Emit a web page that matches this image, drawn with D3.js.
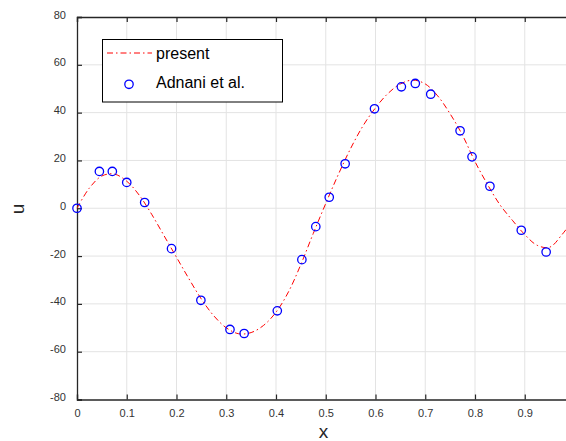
<!DOCTYPE html>
<html>
<head>
<meta charset="utf-8">
<script src="https://cdn.jsdelivr.net/npm/d3@7"></script>
<style>
  html, body { margin: 0; padding: 0; background: #fff; }
  svg { display: block; font-family: "Liberation Sans", Arial, sans-serif; }
</style>
</head>
<body>
<svg id="chart" width="566" height="441"></svg>
<script>
// "present" curve samples (x, u)
const presentX = [0, 0.025, 0.05, 0.075, 0.1, 0.125, 0.15, 0.175, 0.2, 0.225, 0.25, 0.275, 0.3, 0.325, 0.35, 0.375, 0.4, 0.425, 0.45, 0.475, 0.5, 0.525, 0.55, 0.575, 0.6, 0.625, 0.65, 0.675, 0.7, 0.725, 0.75, 0.775, 0.8, 0.825, 0.85, 0.875, 0.9, 0.925, 0.95, 0.975, 1.0];
const presentU = [0, 8.5, 13.5, 14.3, 11.3, 5.5, -2.5, -11.5, -20.5, -29.5, -38, -45, -50, -52.5, -52, -49, -43.5, -35, -23.5, -10.5, 2, 14, 25, 34.5, 42, 48, 52, 53.6, 52, 47, 39.5, 30.5, 19.5, 10, 1.5, -5, -11, -15.5, -16.3, -11, -4];
// Adnani et al. points
const adnaniX = [0, 0.045, 0.071, 0.100, 0.136, 0.190, 0.249, 0.3075, 0.336, 0.4026, 0.452, 0.480, 0.507, 0.539, 0.598, 0.652, 0.680, 0.711, 0.770, 0.794, 0.830, 0.893, 0.943];
const adnaniU = [0, 15.4, 15.4, 10.8, 2.4, -16.9, -38.5, -50.7, -52.4, -42.9, -21.5, -7.7, 4.6, 18.6, 41.6, 50.8, 52.2, 47.7, 32.4, 21.5, 9.2, -9.2, -18.3];
const xTicks = [0, 0.1, 0.2, 0.3, 0.4, 0.5, 0.6, 0.7, 0.8, 0.9];
const yTicks = [-80, -60, -40, -20, 0, 20, 40, 60, 80];
const legendLabels = ["present", "Adnani et al."];

const svg = d3.select("#chart");
const pLeft = 77, pTop = 17, pRight = 574.5, pBottom = 399.5;
const x = d3.scaleLinear().domain([0, 1]).range([pLeft, pRight]);
const y = d3.scaleLinear().domain([-80, 80]).range([pBottom, pTop]);

// grid
const grid = svg.append("g");
grid.selectAll(".gx").data(xTicks.slice(1)).join("line")
  .attr("x1", d => x(d)).attr("x2", d => x(d)).attr("y1", pTop).attr("y2", pBottom)
  .attr("stroke", "#e3e3e3").attr("stroke-width", 1);
grid.selectAll(".gy").data(yTicks.slice(1, -1)).join("line")
  .attr("y1", d => y(d)).attr("y2", d => y(d)).attr("x1", pLeft).attr("x2", pRight)
  .attr("stroke", "#e3e3e3").attr("stroke-width", 1);

// axes
const axisColor = "#262626";
const labelColor = "#333";
const xAxisB = svg.append("g").attr("transform", `translate(0,${pBottom})`)
  .call(d3.axisBottom(x).tickValues(xTicks).tickSize(-5).tickPadding(12).tickFormat(d => d === 0 ? "0" : d3.format(".1f")(d)));
const xAxisT = svg.append("g").attr("transform", `translate(0,${pTop})`)
  .call(d3.axisTop(x).tickValues(xTicks).tickSize(-5).tickFormat(""));
const yAxisL = svg.append("g").attr("transform", `translate(${pLeft},0)`)
  .call(d3.axisLeft(y).tickValues(yTicks).tickSize(-5).tickPadding(11).tickFormat(d => String(d)));
[xAxisB, xAxisT, yAxisL].forEach(g => {
  g.select(".domain").attr("stroke", axisColor).attr("stroke-width", 1.3);
  g.selectAll(".tick line").attr("stroke", axisColor).attr("stroke-width", 1.2);
  g.selectAll(".tick text").attr("fill", labelColor).attr("font-size", 11)
    .attr("font-family", "Liberation Sans, Arial, sans-serif");
});
yAxisL.selectAll(".tick text").attr("dy", "0.1em");
xAxisB.selectAll(".tick text").attr("dy", "0.5em");

// curve
const line = d3.line().x(d => x(d[0])).y(d => y(d[1])).curve(d3.curveCatmullRom.alpha(0.5));
svg.append("path").datum(presentX.map((v, i) => [v, presentU[i]]))
  .attr("d", line).attr("fill", "none").attr("stroke", "#ff0000")
  .attr("stroke-width", 1).attr("stroke-dasharray", "6,3,1.5,3");

// points
svg.append("g").selectAll("circle").data(adnaniX.map((v, i) => [v, adnaniU[i]])).join("circle")
  .attr("cx", d => x(d[0])).attr("cy", d => y(d[1])).attr("r", 4.2)
  .attr("fill", "none").attr("stroke", "#0000ff").attr("stroke-width", 1.3);

// legend
const lg = svg.append("g");
lg.append("rect").attr("x", 102.5).attr("y", 39.5).attr("width", 180).attr("height", 62.5)
  .attr("fill", "#fff").attr("stroke", "#000").attr("stroke-width", 1);
lg.append("line").attr("x1", 107).attr("x2", 152).attr("y1", 53).attr("y2", 53)
  .attr("stroke", "#ff0000").attr("stroke-width", 1).attr("stroke-dasharray", "6,3,1.5,3");
lg.append("circle").attr("cx", 129).attr("cy", 84.3).attr("r", 4.2)
  .attr("fill", "none").attr("stroke", "#0000ff").attr("stroke-width", 1.3);
lg.selectAll("text").data(legendLabels).join("text")
  .attr("x", 156).attr("y", (d, i) => i === 0 ? 58.5 : 88)
  .attr("font-size", 16).attr("fill", "#000").text(d => d);

// axis labels
svg.append("text").attr("x", 323.5).attr("y", 438).attr("text-anchor", "middle")
  .attr("font-size", 19).attr("fill", "#262626").text("x");
svg.append("text").attr("transform", "translate(24,209) rotate(-90)").attr("text-anchor", "middle")
  .attr("font-size", 19).attr("fill", "#262626").text("u");
</script>
</body>
</html>
